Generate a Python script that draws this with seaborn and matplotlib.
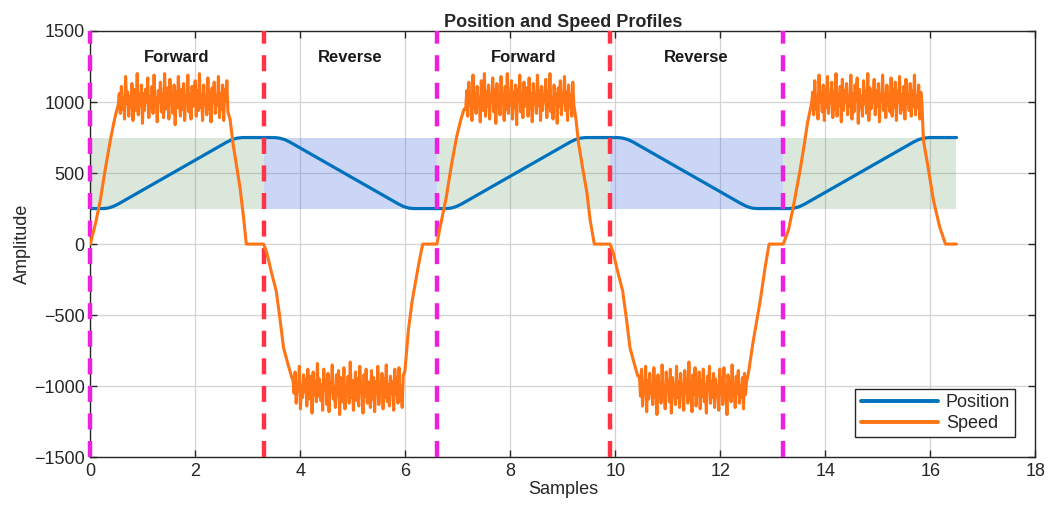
import numpy as np
import pandas as pd
import matplotlib
matplotlib.use("Agg")
import matplotlib.pyplot as plt
import seaborn as sns

# ---------------- data ----------------
# Position profile keypoints
pos_x = [0.0, 0.23, 0.33, 0.43, 0.53, 2.60, 2.70, 2.80, 2.90,
         3.50, 3.60, 3.70, 3.80, 5.87, 5.97, 6.07, 6.17,
         6.77, 6.87, 6.97, 7.07, 9.14, 9.24, 9.34, 9.44,
         10.04, 10.14, 10.24, 10.34, 12.41, 12.51, 12.61, 12.71,
         13.31, 13.41, 13.51, 13.61, 15.68, 15.78, 15.88, 15.98, 16.5]
pos_y = [250, 250, 253, 264, 282, 718, 736, 746, 750,
         750, 746, 736, 718, 282, 264, 253, 250,
         250, 253, 264, 282, 718, 736, 746, 750,
         750, 746, 736, 718, 282, 264, 253, 250,
         250, 253, 264, 282, 718, 736, 746, 750, 750]

# Speed ramps (x, y)
ramp_up1_x = [0.0, 0.10, 0.19, 0.28, 0.38, 0.45, 0.50]
ramp_up1_y = [0, 150, 310, 520, 730, 860, 940]
ramp_dn1_x = [2.66, 2.72, 2.78, 2.85, 2.92, 2.97, 3.30]
ramp_dn1_y = [880, 700, 560, 400, 180, 0, 0]
drop1_x = [3.36, 3.45, 3.54, 3.61, 3.68, 3.76, 3.83]
drop1_y = [-60, -200, -330, -520, -730, -840, -930]
back1_x = [5.99, 6.06, 6.13, 6.25, 6.33, 6.60]
back1_y = [-900, -600, -400, -150, 0, 0]
ramp_up2_x = [6.68, 6.78, 6.88, 6.98, 7.06, 7.12]
ramp_up2_y = [150, 330, 560, 760, 880, 950]
ramp_dn2_x = [9.25, 9.30, 9.38, 9.46, 9.52, 9.60, 9.90]
ramp_dn2_y = [880, 710, 530, 360, 170, 0, 0]
drop2_x = [9.96, 10.05, 10.14, 10.21, 10.28, 10.36, 10.43]
drop2_y = [-60, -200, -330, -520, -730, -840, -930]
back2_x = [12.54, 12.62, 12.76, 12.86, 12.93, 13.20]
back2_y = [-900, -700, -400, -150, 0, 0]
ramp_up3_x = [13.30, 13.40, 13.52, 13.60, 13.66, 13.71]
ramp_up3_y = [100, 280, 520, 700, 850, 940]
ramp_dn3_x = [15.87, 15.95, 16.06, 16.18, 16.29, 16.50]
ramp_dn3_y = [730, 560, 310, 120, 0, 0]

# Speed plateaus (noisy measured values)
fwd1_span = (0.53, 2.62)
fwd1 = [980, 1060, 920, 1110, 950, 1030, 880, 1180, 990, 1070, 900, 1040, 960, 1130, 870,
        1090, 1010, 940, 1200, 910, 1050, 980, 1120, 850, 1060, 940, 1090, 1000, 1170, 890,
        1040, 960, 1110, 920, 1190, 970, 1030, 860, 1080, 1000, 1140, 930, 1060, 890, 1200,
        950, 1020, 1100, 880, 1160, 990, 1050, 920, 1120, 840, 1070, 960, 1180, 1010, 900,
        1090, 950, 1130, 870, 1040, 1000, 1190, 930, 1060, 880, 1110, 970, 1020, 1150, 900,
        1080, 940, 1200, 960, 1050, 870, 1120, 990, 1030, 910, 1170, 950, 1070, 860, 1100,
        1000, 1140, 920, 1040, 980, 1180, 890, 1060, 950, 1120, 870, 1090, 1010, 1150, 930]
rev1_span = (3.86, 5.96)
rev1 = [-960, -1050, -900, -1120, -980, -1030, -860, -1160, -1000, -1080, -920, -1040, -950, -1140, -880,
        -1090, -1010, -930, -1190, -900, -1060, -970, -1110, -840, -1070, -950, -1100, -990, -1170, -880,
        -1030, -960, -1130, -910, -1180, -980, -1040, -850, -1090, -1010, -1150, -920, -1060, -890, -1200,
        -940, -1020, -1110, -870, -1160, -1000, -1050, -930, -1120, -830, -1080, -960, -1170, -1020, -900,
        -1100, -950, -1140, -860, -1040, -990, -1190, -920, -1070, -880, -1120, -970, -1030, -1150, -890,
        -1090, -940, -1180, -970, -1050, -860, -1130, -1000, -1020, -910, -1160, -950, -1080, -850, -1110,
        -990, -1140, -930, -1050, -970, -1170, -880, -1060, -940, -1120, -870, -1100, -1000, -1150, -920]
fwd2_span = (7.15, 9.21)
fwd2 = [950, 1080, 900, 1140, 1000, 1040, 870, 1190, 960, 1060, 920, 1110, 980, 1030, 860,
        1150, 1010, 940, 1200, 900, 1070, 970, 1120, 880, 1050, 1000, 1170, 930, 1090, 850,
        1130, 960, 1040, 910, 1180, 990, 1060, 870, 1110, 950, 1200, 920, 1030, 1000, 1150,
        880, 1070, 960, 1120, 840, 1090, 1010, 1190, 930, 1050, 890, 1140, 970, 1020, 1100,
        900, 1170, 950, 1060, 860, 1130, 1000, 1040, 920, 1190, 980, 1080, 870, 1110, 940,
        1050, 1010, 1160, 890, 1070, 960, 1200, 930, 1030, 880, 1120, 990, 1060, 850, 1100,
        970, 1150, 910, 1040, 1000, 1180, 940, 1070, 870, 1120, 960, 1050, 900, 1140, 980]
rev2_span = (10.46, 12.50)
rev2 = [-930, -1070, -880, -1140, -990, -1040, -860, -1180, -960, -1090, -910, -1050, -1000, -1130, -870,
        -1080, -950, -1200, -920, -1040, -980, -1120, -850, -1070, -1010, -1160, -900, -1030, -960, -1110,
        -880, -1190, -940, -1060, -990, -1130, -860, -1080, -970, -1150, -910, -1020, -1000, -1170, -890,
        -1050, -950, -1120, -830, -1090, -980, -1180, -920, -1060, -870, -1140, -1010, -1040, -900, -1160,
        -960, -1070, -880, -1110, -990, -1190, -930, -1030, -860, -1120, -970, -1080, -910, -1150, -950,
        -1050, -1000, -1170, -880, -1060, -940, -1130, -870, -1090, -990, -1200, -920, -1040, -960, -1110,
        -850, -1070, -980, -1150, -930, -1050, -890, -1120, -1000, -1080, -940, -1160, -910, -1060, -970]
fwd3_span = (13.74, 15.84)
fwd3 = [990, 1070, 910, 1150, 950, 1040, 880, 1190, 1000, 1060, 930, 1120, 870, 1090, 960,
        1180, 920, 1030, 1010, 1140, 890, 1070, 950, 1200, 900, 1050, 980, 1110, 860, 1160,
        940, 1080, 1000, 1130, 910, 1040, 970, 1190, 880, 1060, 930, 1120, 1010, 1170, 850,
        1090, 960, 1040, 900, 1150, 990, 1070, 920, 1200, 870, 1100, 950, 1030, 1000, 1160,
        910, 1080, 970, 1130, 860, 1050, 1010, 1190, 940, 1060, 890, 1120, 980, 1040, 930,
        1170, 900, 1090, 960, 1140, 870, 1070, 1000, 1180, 920, 1050, 950, 1110, 880, 1160,
        990, 1060, 940, 1130, 900, 1080, 970, 1190, 910, 1040, 960, 1120, 880, 1070, 1000]

# Phase boundaries / labels
bounds = [0.0, 3.3, 6.6, 9.9, 13.2, 16.5]
phase_names = ["Forward", "Reverse", "Forward", "Reverse", "Forward"]
boundary_colors = ["#EE1FE0", "#FF3347", "#EE1FE0", "#FF3347", "#EE1FE0"]
band_low, band_high = 250, 750
xticks = list(range(0, 19, 2))
yticks = list(range(-1500, 1501, 500))

# ---------------- assemble speed series ----------------
def plateau(span, vals):
    return list(np.linspace(span[0], span[1], len(vals))), list(vals)

segs = [
    (ramp_up1_x, ramp_up1_y), plateau(fwd1_span, fwd1), (ramp_dn1_x, ramp_dn1_y),
    (drop1_x, drop1_y), plateau(rev1_span, rev1), (back1_x, back1_y),
    (ramp_up2_x, ramp_up2_y), plateau(fwd2_span, fwd2), (ramp_dn2_x, ramp_dn2_y),
    (drop2_x, drop2_y), plateau(rev2_span, rev2), (back2_x, back2_y),
    (ramp_up3_x, ramp_up3_y), plateau(fwd3_span, fwd3), (ramp_dn3_x, ramp_dn3_y),
]
spd_x, spd_y = [], []
for sx, sy in segs:
    spd_x += list(sx)
    spd_y += list(sy)

df_pos = pd.DataFrame({"Samples": pos_x, "Amplitude": pos_y})
df_spd = pd.DataFrame({"Samples": spd_x, "Amplitude": spd_y})

# ---------------- plot ----------------
sns.set_style("ticks")
plt.rcParams["font.family"] = ["Liberation Sans", "DejaVu Sans"]

fig, ax = plt.subplots(figsize=(10.51, 5.08), dpi=100)
fig.subplots_adjust(left=0.086, right=0.985, top=0.939, bottom=0.10)

# shaded bands
for i in range(len(bounds) - 1):
    col = "#4f8a4f" if phase_names[i] == "Forward" else "royalblue"
    alpha = 0.2 if phase_names[i] == "Forward" else 0.27
    ax.fill_between([bounds[i], bounds[i + 1]], band_low, band_high,
                    color=col, alpha=alpha, lw=0, zorder=1)

ax.grid(True, color="#d4d4d4", lw=0.9, zorder=0)
ax.set_axisbelow(True)

sns.lineplot(data=df_pos, x="Samples", y="Amplitude", ax=ax, color="#0072BD",
             lw=2.3, sort=False, estimator=None, label="Position", zorder=2)

for b, c in zip(bounds[:-1], boundary_colors):
    ax.axvline(b, color=c, lw=3.2, linestyle=(0, (3.6, 2.6)), zorder=3,
               clip_on=False)

sns.lineplot(data=df_spd, x="Samples", y="Amplitude", ax=ax, color="#FF7414",
             lw=2.2, sort=False, estimator=None, label="Speed", zorder=4)

for i in range(len(phase_names) - 1):
    ax.text((bounds[i] + bounds[i + 1]) / 2, 1310, phase_names[i],
            ha="center", va="center", fontsize=12, fontweight="bold",
            color="#1a1a1a")

ax.set_xlim(0, 18)
ax.set_ylim(-1500, 1500)
ax.set_xticks(xticks)
ax.set_yticks(yticks)
ax.tick_params(direction="in", top=True, right=True, length=5, width=1,
               labelsize=13, colors="#262626", pad=4)
for s in ax.spines.values():
    s.set_color("#262626")
    s.set_linewidth(1.0)
    s.set_visible(True)

ax.set_xlabel("Samples", fontsize=13, labelpad=1)
ax.set_ylabel("Amplitude", fontsize=13, labelpad=2)
ax.set_title("Position and Speed Profiles", fontsize=13, fontweight="bold",
             pad=3)

leg = ax.legend(loc="lower right", fontsize=13, handlelength=4.3,
                fancybox=False, edgecolor="#262626", framealpha=1,
                borderpad=0.3, labelspacing=0.2, handletextpad=0.4,
                borderaxespad=1.1)
leg.get_frame().set_linewidth(1.0)
for ln in leg.get_lines():
    ln.set_linewidth(2.8)

fig.savefig("out.png", dpi=100)
